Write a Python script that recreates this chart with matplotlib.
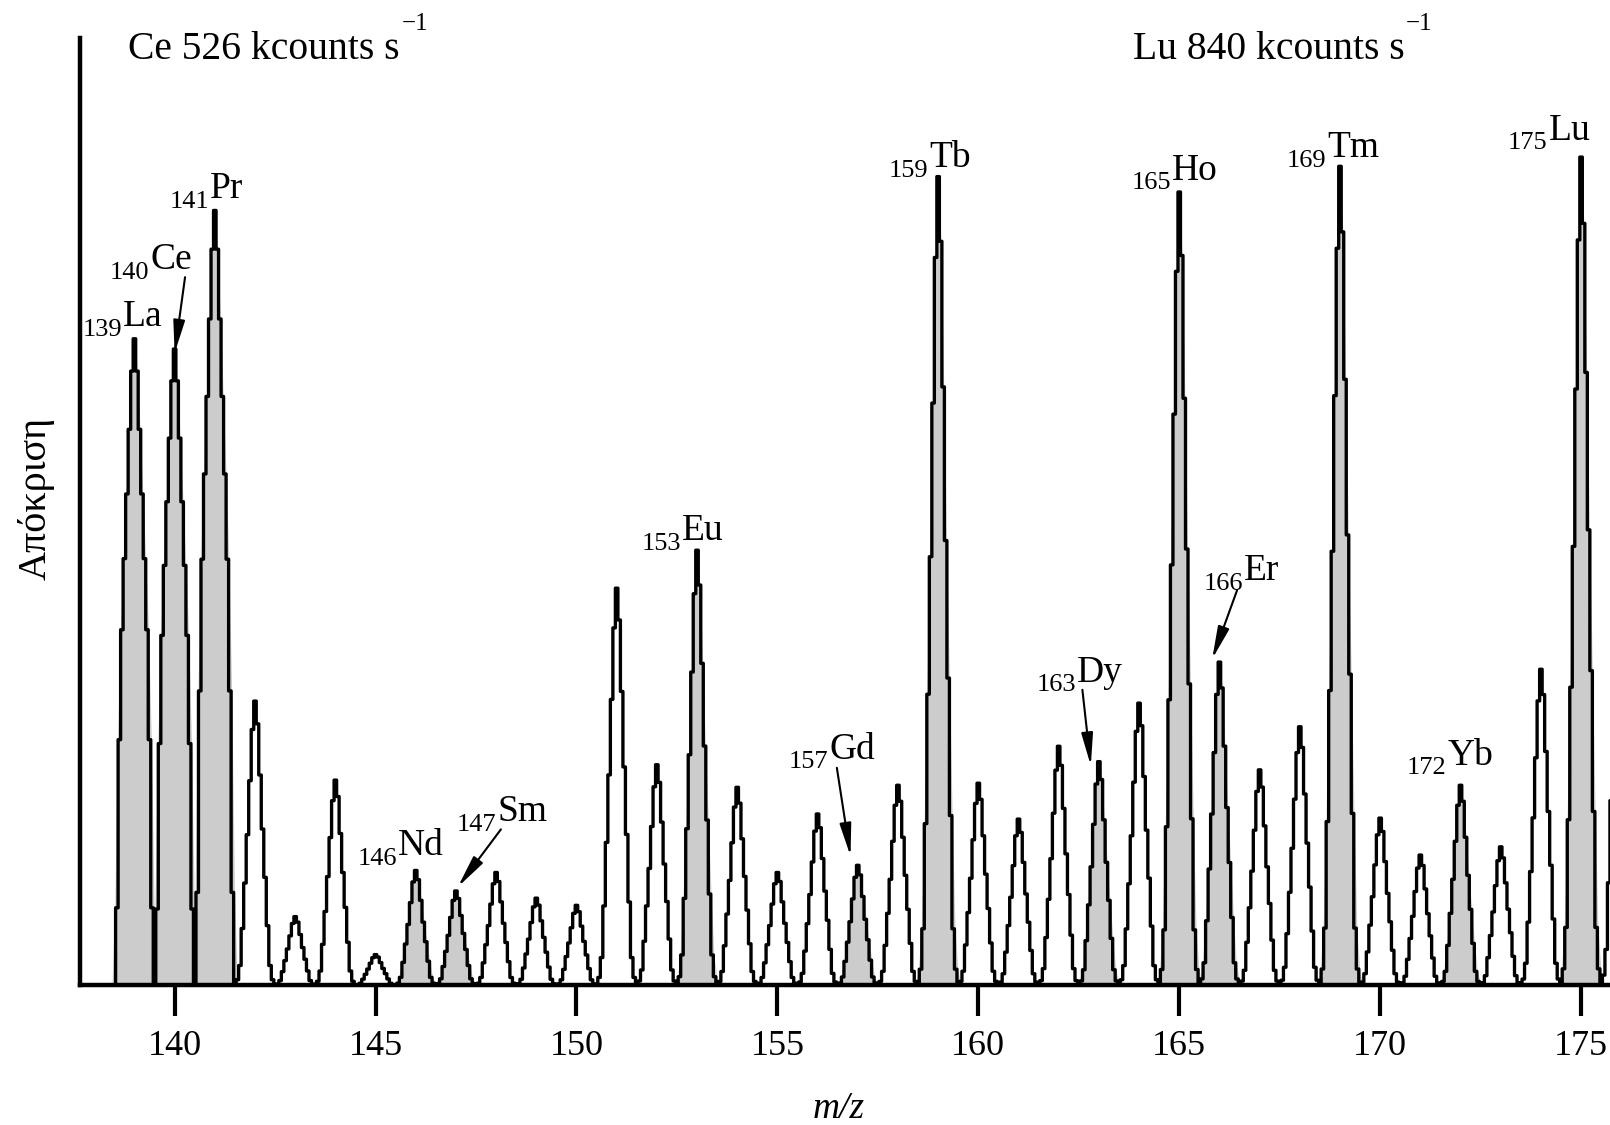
import numpy as np
import matplotlib
matplotlib.use("Agg")
import matplotlib.pyplot as plt
from matplotlib.transforms import offset_copy

plt.rcParams["font.family"] = ["Liberation Serif", "DejaVu Serif"]

# peak heights (arbitrary response units) at each nominal m/z
mass = np.arange(139, 177)
height = [630, 620, 755, 277, 67, 200, 30, 112, 92, 110,
          85, 78, 387, 215, 424, 193, 110, 167, 117, 195,
          788, 197, 162, 233, 218, 275, 773, 315, 210, 252,
          798, 163, 127, 195, 135, 308, 807, 500]

# peak profile (relative level vs offset from nominal mass)
offsets = np.arange(-8, 9) / 16.0
narrow_shape = [0, 0.02, 0.07, 0.20, 0.36, 0.53, 0.72, 0.90, 1.0,
                0.92, 0.74, 0.55, 0.38, 0.21, 0.07, 0.02, 0]
broad_shape = [0, 0.12, 0.38, 0.55, 0.66, 0.76, 0.86, 0.95, 1.0,
               0.95, 0.86, 0.76, 0.66, 0.55, 0.38, 0.12, 0]
broad_peaks = [139, 140, 141]

# labelled (shaded) isotopes
label_mass = [139, 140, 141, 146, 147, 153, 157, 159, 163, 165, 166, 169, 172, 175]
label_elem = ["La", "Ce", "Pr", "Nd", "Sm", "Eu", "Gd", "Tb", "Dy", "Ho", "Er", "Tm", "Yb", "Lu"]

# label anchor (left of mass number, element baseline) in data coords
label_pos = {
    139: (137.70, 642), 140: (138.39, 698), 141: (139.87, 767),
    146: (144.55, 127), 147: (147.03, 160), 153: (151.62, 434),
    157: (155.28, 221), 159: (157.78, 797), 163: (161.45, 296),
    165: (163.81, 785), 166: (165.60, 395), 169: (167.67, 807),
    172: (170.66, 215), 175: (173.18, 824),
}
# arrows: start (under label) -> tip (peak)
arrows = {
    140: ((140.26, 690), (140.0, 616)),
    147: ((148.12, 152), (147.05, 96)),
    157: ((156.48, 212), (156.82, 126)),
    163: ((162.59, 288), (162.80, 214)),
    166: ((166.44, 385), (165.82, 318)),
}

fig = plt.figure(figsize=(16.1, 11.25), dpi=100)
ax = fig.add_axes([0.0498, 0.1241, 0.9502, 0.8421])
ax.set_xlim(137.65, 175.72)
ax.set_ylim(0, 923)


def shape_for(m):
    return broad_shape if m in broad_peaks else narrow_shape


# stepped spectrum trace
x = np.arange(138.5, 176.5 + 1e-9, 1 / 16.0)
total = np.zeros_like(x)
for m, h in zip(mass, height):
    total += h * np.interp(x - m, offsets, shape_for(m), left=0, right=0)

# grey fill under labelled peaks
for m in label_mass:
    h = height[m - mass[0]]
    ax.fill_between(m + offsets * 1.12, h * np.array(shape_for(m)),
                    color="#cccccc", lw=0, zorder=1)

ax.plot(x, total, drawstyle="steps-mid", color="k", lw=2.4, zorder=2)

# isotope labels: mass number as a lowered prefix, then the element
renderer = fig.canvas.get_renderer()
sub_tr = offset_copy(ax.transData, fig=fig, x=0, y=-7, units="points")
for m, el in zip(label_mass, label_elem):
    lx, ly = label_pos[m]
    t = ax.text(lx, ly, str(m), fontsize=19, ha="left", va="baseline",
                transform=sub_tr, zorder=3)
    bb = t.get_window_extent(renderer)
    ex = ax.transData.inverted().transform((bb.x1 + 1, 0))[0]
    ax.text(ex, ly, el, fontsize=27, ha="left", va="baseline", zorder=3)

for m, (start, tip) in arrows.items():
    ax.annotate("", xy=tip, xytext=start,
                arrowprops=dict(arrowstyle="-|>,head_length=0.9,head_width=0.16",
                                color="k", lw=1.5, shrinkA=0, shrinkB=0,
                                mutation_scale=22), zorder=3)

# count-rate headers
for hx, txt in [(138.85, "Ce 526 kcounts s"), (163.85, "Lu 840 kcounts s")]:
    t = ax.text(hx, 903, txt, fontsize=28.5, ha="left", va="baseline")
    ax.annotate("\u22121", xy=(1, 1), xycoords=t, xytext=(1, -3),
                textcoords="offset points", fontsize=18, ha="left", va="bottom")

ax.set_yticks([])
ax.set_xticks(range(140, 176, 5))
ax.tick_params(axis="x", direction="out", length=22, width=3.0, labelsize=26, pad=10)
for side in ["top", "right"]:
    ax.spines[side].set_visible(False)
for side in ["left", "bottom"]:
    ax.spines[side].set_linewidth(3.2)

fig.text(36 / 1610, 0.557, "Απόκριση", rotation=90, ha="center", va="center", fontsize=29)
fig.text(0.521, 0.006, "m/z", style="italic", ha="center", va="baseline", fontsize=27)

fig.savefig("out.png", dpi=100)
